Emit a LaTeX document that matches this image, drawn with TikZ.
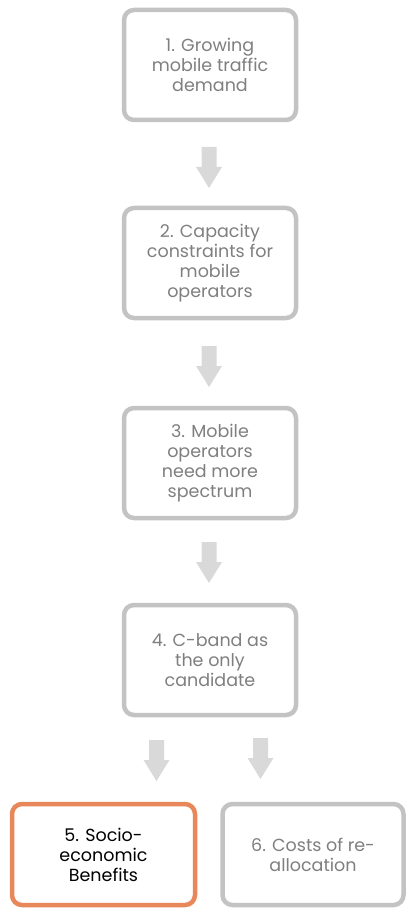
\documentclass[tikz,border=0pt]{standalone}
\usepackage{fontspec}
\setmainfont{Poppins}
\definecolor{boxgray}{HTML}{C3C3C3}
\definecolor{txtgray}{HTML}{7F7F7F}
\definecolor{arrgray}{HTML}{D9D9D9}
\definecolor{orangeline}{HTML}{E8875A}
\begin{document}
\begin{tikzpicture}[x=1pt,y=-1pt,
  stepbox/.style={draw=boxgray, line width=4.5pt, rounded corners=10pt, fill=white,
    minimum width=172pt, minimum height=110pt, align=center, text=txtgray,
    font=\fontsize{17.5}{20}\selectfont, inner sep=0pt},
  pics/downarrow/.style={code={
    \fill[arrgray] (-7.5,0) -- (7.5,0) -- (7.5,20) -- (13,20) -- (0,41)
      -- (-13,20) -- (-7.5,20) -- cycle;}}]
\useasboundingbox (0,0) rectangle (406,909);
\node[stepbox] (s1) at (210,65) {1. Growing\\mobile traffic\\demand};
\node[stepbox] (s2) at (210,263) {2. Capacity\\constraints for\\mobile\\operators};
\node[stepbox] (s3) at (210,463) {3. Mobile\\operators\\need more\\spectrum};
\node[stepbox] (s4) at (210,660) {4. C-band as\\the only\\candidate};
\node[stepbox, draw=orangeline, text=black, minimum width=183pt, minimum height=101pt] (s5) at (103.5,854.5) {5. Socio-\\economic\\Benefits};
\node[stepbox, minimum width=181pt, minimum height=101pt] (s6) at (313,854.5) {6. Costs of re-\\allocation};
\pic (a1) at (209,147) {downarrow};
\pic (a2) at (209,346) {downarrow};
\pic (a3) at (209,542) {downarrow};
\pic (a4) at (156.5,740) {downarrow};
\pic (a5) at (260.5,738) {downarrow};
\end{tikzpicture}
\end{document}
